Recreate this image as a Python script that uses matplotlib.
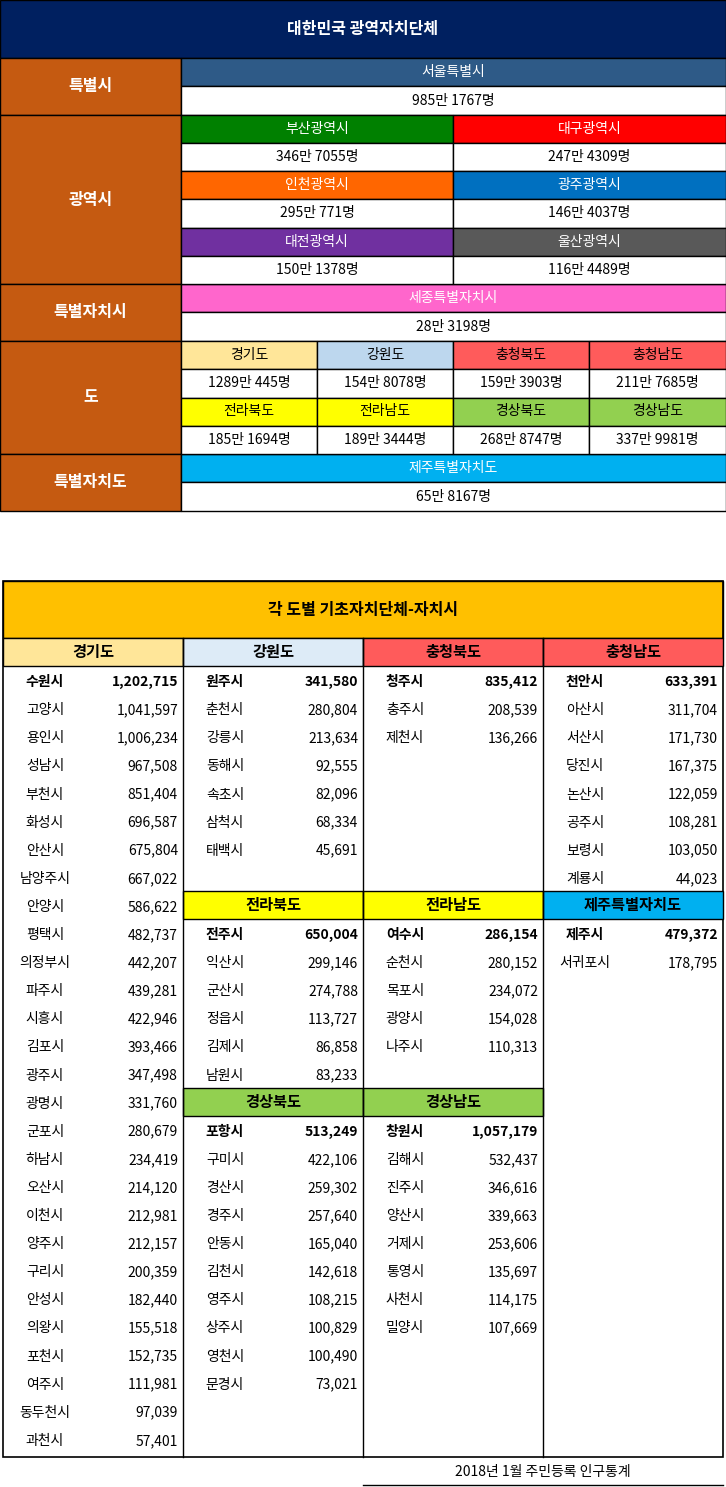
import matplotlib
matplotlib.use("Agg")
import matplotlib.pyplot as plt
from matplotlib.patches import Rectangle

plt.rcParams['font.family'] = ['Noto Sans CJK KR', 'DejaVu Sans']

# ---------- data: top table ----------
special_city = ["서울특별시"]
special_city_pop = [9851767]
metro_cities = ["부산광역시", "대구광역시", "인천광역시", "광주광역시", "대전광역시", "울산광역시"]
metro_pop = [3467055, 2474309, 2950771, 1464037, 1501378, 1164489]
sejong = ["세종특별자치시"]
sejong_pop = [283198]
provinces = ["경기도", "강원도", "충청북도", "충청남도", "전라북도", "전라남도", "경상북도", "경상남도"]
provinces_pop = [12890445, 1548078, 1593903, 2117685, 1851694, 1893444, 2688747, 3379981]
jeju = ["제주특별자치도"]
jeju_pop = [658167]

# ---------- data: bottom table ----------
gyeonggi = ["수원시", "고양시", "용인시", "성남시", "부천시", "화성시", "안산시", "남양주시", "안양시", "평택시",
            "의정부시", "파주시", "시흥시", "김포시", "광주시", "광명시", "군포시", "하남시", "오산시", "이천시",
            "양주시", "구리시", "안성시", "의왕시", "포천시", "여주시", "동두천시", "과천시"]
gyeonggi_pop = [1202715, 1041597, 1006234, 967508, 851404, 696587, 675804, 667022, 586622, 482737,
                442207, 439281, 422946, 393466, 347498, 331760, 280679, 234419, 214120, 212981,
                212157, 200359, 182440, 155518, 152735, 111981, 97039, 57401]
gangwon = ["원주시", "춘천시", "강릉시", "동해시", "속초시", "삼척시", "태백시"]
gangwon_pop = [341580, 280804, 213634, 92555, 82096, 68334, 45691]
chungbuk = ["청주시", "충주시", "제천시"]
chungbuk_pop = [835412, 208539, 136266]
chungnam = ["천안시", "아산시", "서산시", "당진시", "논산시", "공주시", "보령시", "계룡시"]
chungnam_pop = [633391, 311704, 171730, 167375, 122059, 108281, 103050, 44023]
jeonbuk = ["전주시", "익산시", "군산시", "정읍시", "김제시", "남원시"]
jeonbuk_pop = [650004, 299146, 274788, 113727, 86858, 83233]
jeonnam = ["여수시", "순천시", "목포시", "광양시", "나주시"]
jeonnam_pop = [286154, 280152, 234072, 154028, 110313]
jeju_cities = ["제주시", "서귀포시"]
jeju_cities_pop = [479372, 178795]
gyeongbuk = ["포항시", "구미시", "경산시", "경주시", "안동시", "김천시", "영주시", "상주시", "영천시", "문경시"]
gyeongbuk_pop = [513249, 422106, 259302, 257640, 165040, 142618, 108215, 100829, 100490, 73021]
gyeongnam = ["창원시", "김해시", "진주시", "양산시", "거제시", "통영시", "사천시", "밀양시"]
gyeongnam_pop = [1057179, 532437, 346616, 339663, 253606, 135697, 114175, 107669]

W, H = 726, 1487
fig = plt.figure(figsize=(W / 100, H / 100), dpi=100)
ax = fig.add_axes([0, 0, 1, 1])
ax.set_xlim(0, W)
ax.set_ylim(H, 0)
ax.axis('off')

def box(x0, y0, x1, y1, fc, text=None, tc='black', bold=False, size=10, lw=1):
    ax.add_patch(Rectangle((x0, y0), x1 - x0, y1 - y0, facecolor=fc, edgecolor='black', lw=lw))
    if text:
        ax.text((x0 + x1) / 2, (y0 + y1) / 2, text, ha='center', va='center', color=tc,
                fontsize=size, fontweight='bold' if bold else 'normal')

def man(v):
    return f"{v // 10000}만 {v % 10000}명"

# ---------- top table ----------
NAVY = '#002060'
ORANGE = '#C55A11'
box(0, 0, 726, 58, NAVY, "대한민국 광역자치단체", 'white', True, 11.5)
L = 181
sections = [(58, 115, "특별시"), (115, 284, "광역시"), (284, 341, "특별자치시"), (341, 454, "도"), (454, 511, "특별자치도")]
for y0, y1, t in sections:
    box(0, y0, L, y1, ORANGE, t, 'white', True, 11.5)

def full(y0, name, pop, color):
    box(L, y0, 726, y0 + 28, color, name, 'white', size=10)
    box(L, y0 + 28, 726, y0 + 57, 'white', man(pop), size=10)

full(58, special_city[0], special_city_pop[0], '#2E5A87')
full(284, sejong[0], sejong_pop[0], '#FF66CC')
full(454, jeju[0], jeju_pop[0], '#00B0F0')

metro_colors = ['#008000', '#FF0000', '#FF6600', '#0070C0', '#7030A0', '#595959']
for i, (n, p) in enumerate(zip(metro_cities, metro_pop)):
    r, c = divmod(i, 2)
    x0, x1 = (L, 453) if c == 0 else (453, 726)
    y0 = 115 + r * 56.3
    box(x0, y0, x1, y0 + 28, metro_colors[i], n, 'white', size=10)
    box(x0, y0 + 28, x1, y0 + 56.3, 'white', man(p), size=10)

prov_colors = ['#FFE699', '#BDD7EE', '#FF5B5B', '#FF5B5B', '#FFFF00', '#FFFF00', '#92D050', '#92D050']
xs = [L, 317, 453, 589, 726]
for i, (n, p) in enumerate(zip(provinces, provinces_pop)):
    r, c = divmod(i, 4)
    y0 = 341 + r * 56.5
    box(xs[c], y0, xs[c + 1], y0 + 28, prov_colors[i], n, 'black', size=10)
    box(xs[c], y0 + 28, xs[c + 1], y0 + 56.5, 'white', man(p), size=10)

# ---------- bottom table ----------
TOP, BOT = 581, 1457
cx = [3, 183, 363, 543, 723]
RH = 28.1
HY = 638
box(3, TOP, 723, HY, '#FFC000', "각 도별 기초자치단체-자치시", 'black', True, 11.5)
ax.add_patch(Rectangle((3, TOP), 720, BOT - TOP, facecolor='none', edgecolor='black', lw=1.2))
for x in cx[1:4]:
    ax.plot([x, x], [HY, BOT], color='black', lw=1)

def block(col, row, title, color, names, pops):
    x0, x1 = cx[col], cx[col + 1]
    y0 = HY + row * RH
    box(x0, y0, x1, y0 + RH, color, title, 'black', True, 11)
    for i, (n, p) in enumerate(zip(names, pops)):
        yc = y0 + RH * (i + 1.5) + 2
        w = 'bold' if i == 0 else 'normal'
        ax.text(x0 + 42, yc, n, ha='center', va='center', fontsize=10, fontweight=w)
        ax.text(x1 - 5, yc, f"{p:,}", ha='right', va='center', fontsize=10, fontweight=w)

block(0, 0, "경기도", '#FFE699', gyeonggi, gyeonggi_pop)
block(1, 0, "강원도", '#DDEBF7', gangwon, gangwon_pop)
block(2, 0, "충청북도", '#FF5B5B', chungbuk, chungbuk_pop)
block(3, 0, "충청남도", '#FF5B5B', chungnam, chungnam_pop)
block(1, 9, "전라북도", '#FFFF00', jeonbuk, jeonbuk_pop)
block(2, 9, "전라남도", '#FFFF00', jeonnam, jeonnam_pop)
block(3, 9, "제주특별자치도", '#00B0F0', jeju_cities, jeju_cities_pop)
block(1, 16, "경상북도", '#92D050', gyeongbuk, gyeongbuk_pop)
block(2, 16, "경상남도", '#92D050', gyeongnam, gyeongnam_pop)

ax.text(543, 1472, "2018년 1월 주민등록 인구통계", ha='center', va='center', fontsize=10)
ax.plot([363, 723], [1485, 1485], color='black', lw=1)

fig.savefig("out.png", dpi=100)
